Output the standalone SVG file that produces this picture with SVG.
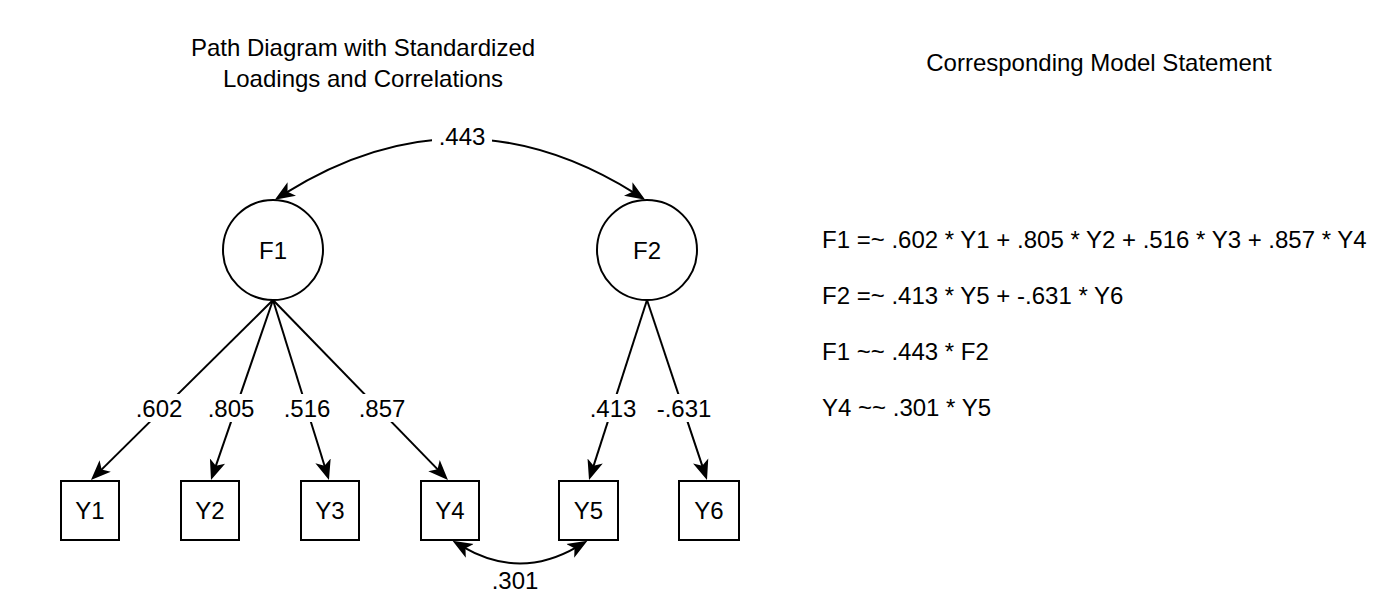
<svg xmlns="http://www.w3.org/2000/svg" width="1380" height="594" viewBox="0 0 1380 594">
<style>
text{font-family:"Liberation Sans",Arial,sans-serif;font-size:24px;fill:#000}
.c{text-anchor:middle}
.node{fill:#fff;stroke:#000;stroke-width:2}
.edge{fill:none;stroke:#000;stroke-width:2}
.bg{fill:#fff;stroke:none}
</style>
<defs>
<marker id="arr" viewBox="0 -9 20 18" refX="8" refY="0" markerWidth="20" markerHeight="18" markerUnits="userSpaceOnUse" orient="auto-start-reverse">
<path d="M20,0 L0,-8 L5,0 L0,8 Z" fill="#000"/>
</marker>
</defs>
<rect width="1380" height="594" fill="#fff"/>
<g id="titles">
<text class="c" x="363" y="56">Path Diagram with Standardized</text>
<text class="c" x="363" y="87">Loadings and Correlations</text>
<text class="c" x="1099" y="71">Corresponding Model Statement</text>
</g>
<g id="connectors">
<path class="edge" d="M285,193.3 Q460,84 635,193.3" marker-start="url(#arr)" marker-end="url(#arr)"/>
<line class="edge" x1="273" y1="300" x2="99.5" y2="471.6" marker-end="url(#arr)"/>
<line class="edge" x1="273" y1="300" x2="214.9" y2="468.6" marker-end="url(#arr)"/>
<line class="edge" x1="273" y1="300" x2="325.4" y2="468.5" marker-end="url(#arr)"/>
<line class="edge" x1="273" y1="300" x2="439.6" y2="471.4" marker-end="url(#arr)"/>
<line class="edge" x1="647" y1="300" x2="592.7" y2="468.6" marker-end="url(#arr)"/>
<line class="edge" x1="647" y1="300" x2="703.2" y2="468.6" marker-end="url(#arr)"/>
<path class="edge" d="M462.9,546.8 Q520,580 577.1,546.8" marker-start="url(#arr)" marker-end="url(#arr)"/>
<rect class="bg" x="432" y="125" width="60" height="26"/>
<text class="c" x="462" y="145">.443</text>
<rect class="bg" x="134" y="394" width="50" height="28"/>
<text class="c" x="159" y="417">.602</text>
<rect class="bg" x="206" y="394" width="50" height="28"/>
<text class="c" x="231" y="417">.805</text>
<rect class="bg" x="282" y="394" width="50" height="28"/>
<text class="c" x="307" y="417">.516</text>
<rect class="bg" x="357" y="394" width="50" height="28"/>
<text class="c" x="382" y="417">.857</text>
<rect class="bg" x="588" y="394" width="50" height="28"/>
<text class="c" x="613" y="417">.413</text>
<rect class="bg" x="655" y="394" width="58" height="28"/>
<text class="c" x="684" y="417">-.631</text>
<text class="c" x="515" y="589">.301</text>
</g>
<g id="F1"><circle class="node" cx="273" cy="250" r="50"/><text class="c" x="273" y="258.5">F1</text></g>
<g id="F2"><circle class="node" cx="647" cy="250" r="50"/><text class="c" x="647" y="258.5">F2</text></g>
<g id="Y1"><rect class="node" x="61" y="481" width="58" height="59"/><text class="c" x="90" y="518.5">Y1</text></g>
<g id="Y2"><rect class="node" x="181" y="481" width="58" height="59"/><text class="c" x="210" y="518.5">Y2</text></g>
<g id="Y3"><rect class="node" x="301" y="481" width="58" height="59"/><text class="c" x="330" y="518.5">Y3</text></g>
<g id="Y4"><rect class="node" x="421" y="481" width="58" height="59"/><text class="c" x="450" y="518.5">Y4</text></g>
<g id="Y5"><rect class="node" x="559" y="481" width="59" height="59"/><text class="c" x="588.5" y="518.5">Y5</text></g>
<g id="Y6"><rect class="node" x="679" y="481" width="60" height="59"/><text class="c" x="709" y="518.5">Y6</text></g>
<g id="model">
<text x="822" y="248">F1 =~ .602 * Y1 + .805 * Y2 + .516 * Y3 + .857 * Y4</text>
<text x="822" y="304">F2 =~ .413 * Y5 + -.631 * Y6</text>
<text x="822" y="360">F1 ~~ .443 * F2</text>
<text x="822" y="416">Y4 ~~ .301 * Y5</text>
</g>
</svg>
